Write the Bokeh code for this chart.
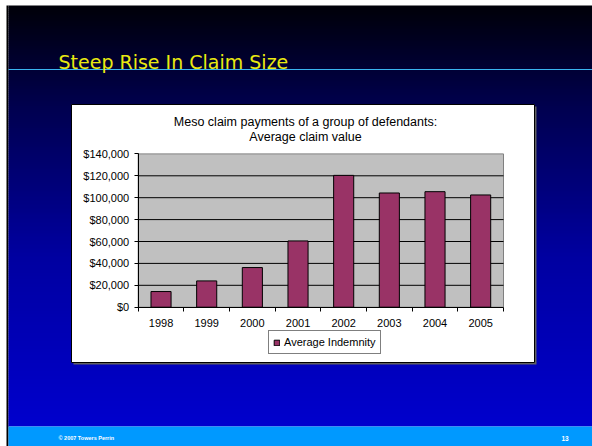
import numpy as np
from bokeh.plotting import figure
from bokeh.models import (Range1d, LinearAxis, FixedTicker, NumeralTickFormatter,
                          Legend, LegendItem)
from bokeh.core.properties import value
from bokeh.embed import file_html
from bokeh.resources import INLINE

# ---------------- data ----------------
years = ["1998", "1999", "2000", "2001", "2002", "2003", "2004", "2005"]
avg_indemnity = [14300, 24000, 36200, 60500, 120400, 104300, 105500, 102500]
y_ticks = [0, 20000, 40000, 60000, 80000, 100000, 120000, 140000]
series_name = "Average Indemnity"
slide_title = "Steep Rise In Claim Size"
chart_title = ["Meso claim payments of a group of defendants:", "Average claim value"]
footer_left = "\u00a9 2007 Towers Perrin"
footer_right = "13"

# ---------------- layout (canvas px, origin top-left) ----------------
W, H = 592, 446
SL, ST = 8, 5                                     # slide left / top
PL, PR, PT, PB = 137.7, 503.0, 153.4, 306.7       # plot area
BOX = (71, 534, 104, 362)                         # white chart box l, r, t, b
FOOT_TOP = 426
ARIAL = "Liberation Sans"

n = len(years)
YMAX = y_ticks[-1]

p = figure(width=W, height=H, output_backend="svg", toolbar_location=None,
           x_range=Range1d(0, W), y_range=Range1d(H, 0),
           x_axis_type=None, y_axis_type=None, min_border=0,
           outline_line_color=None, background_fill_color="white",
           border_fill_color="white")

kx = (PR - PL) / n
ky = (PB - PT) / YMAX
p.extra_x_ranges = {"cx": Range1d(-0.5 - PL / kx, -0.5 + (W - PL) / kx)}
p.extra_y_ranges = {"cy": Range1d(-(H - PB) / ky, PB / ky)}

# ---------------- slide background ----------------
p.quad(left=SL - 2, right=SL, top=ST, bottom=H, fill_color="black", line_color=None)
stops_y = [ST, 105, 255, FOOT_TOP]
stops_b = [8, 78, 160, 205]
ys = np.arange(ST, FOOT_TOP, 2.0)
cols = ["#%02x%02x%02x" % (0, 0, int(round(np.interp(y + 1, stops_y, stops_b)))) for y in ys]
p.quad(left=SL, right=W, top=ys, bottom=np.minimum(ys + 2.6, FOOT_TOP),
       fill_color=cols, line_color=None)
p.quad(left=SL, right=W, top=FOOT_TOP, bottom=H, fill_color="#0099FF", line_color=None)

p.segment(x0=[SL], x1=[W], y0=[69], y1=[69], line_color="#3AB4F0", line_width=1)
p.text(x=[58], y=[61], text=[slide_title], text_font=value("DejaVu Sans"),
       text_font_size="19px", text_color="#EAEA10", text_baseline="alphabetic")

p.text(x=[58], y=[437.5], text=[footer_left], text_font=value(ARIAL),
       text_font_style="bold", text_font_size="5.5px", text_color="white",
       text_baseline="middle")
p.text(x=[561], y=[437.5], text=[footer_right], text_font=value(ARIAL),
       text_font_style="bold", text_font_size="6.5px", text_color="white",
       text_baseline="middle")

# ---------------- chart box ----------------
l, r, t, b = BOX
p.quad(left=l + 2, right=r + 2, top=t + 2, bottom=b + 2, fill_color="#606060", line_color=None)
p.quad(left=l, right=r, top=t, bottom=b, fill_color="white", line_color="black", line_width=1)

p.text(x=[305, 305], y=[121.7, 136.2], text=chart_title, text_font=value(ARIAL),
       text_font_size="12.5px", text_color="black", text_align="center",
       text_baseline="middle")

# plot area
p.quad(left=-0.5, right=n - 0.5, bottom=0, top=YMAX, fill_color="#C0C0C0",
       line_color="#808080", line_width=1, x_range_name="cx", y_range_name="cy")
grid_vals = y_ticks[1:-1]
p.segment(x0=[-0.5] * len(grid_vals), x1=[n - 0.5] * len(grid_vals),
          y0=grid_vals, y1=grid_vals, line_color="black", line_width=1,
          x_range_name="cx", y_range_name="cy")

bars = p.vbar(x=list(range(n)), top=avg_indemnity, bottom=0, width=0.44,
              fill_color="#993366", line_color="black", line_width=1,
              x_range_name="cx", y_range_name="cy")

# axes
yax = LinearAxis(x_range_name="cx", y_range_name="cy", fixed_location=-0.5,
                 ticker=FixedTicker(ticks=y_ticks),
                 formatter=NumeralTickFormatter(format="$0,0"),
                 bounds=(0, YMAX), axis_line_color="black",
                 major_tick_line_color="black", major_tick_out=4, major_tick_in=0,
                 minor_tick_line_color=None, major_label_standoff=5,
                 major_label_text_font=ARIAL, major_label_text_font_size="11px",
                 major_label_text_color="black")
p.add_layout(yax, "left")

xax = LinearAxis(x_range_name="cx", y_range_name="cy", fixed_location=0,
                 ticker=FixedTicker(ticks=list(range(n)),
                                    minor_ticks=[i - 0.5 for i in range(n + 1)]),
                 major_label_overrides={i: yv for i, yv in enumerate(years)},
                 bounds=(-0.5, n - 0.5), axis_line_color="black",
                 major_tick_out=0, major_tick_in=0, major_tick_line_color=None,
                 minor_tick_out=4, minor_tick_in=0, minor_tick_line_color="black",
                 major_label_standoff=8, major_label_text_font=ARIAL,
                 major_label_text_font_size="11px", major_label_text_color="black")
p.add_layout(xax, "below")

legend = Legend(items=[LegendItem(label=series_name, renderers=[bars])],
                location=(268, H - 354), margin=0, padding=4, spacing=0,
                label_height=14, glyph_width=7, glyph_height=7, label_standoff=4,
                label_text_font=ARIAL, label_text_font_size="11px",
                label_text_color="black", border_line_color="black",
                border_line_width=1, background_fill_color="white",
                background_fill_alpha=1)
p.add_layout(legend)

open("out.html", "w").write(file_html(p, INLINE))
